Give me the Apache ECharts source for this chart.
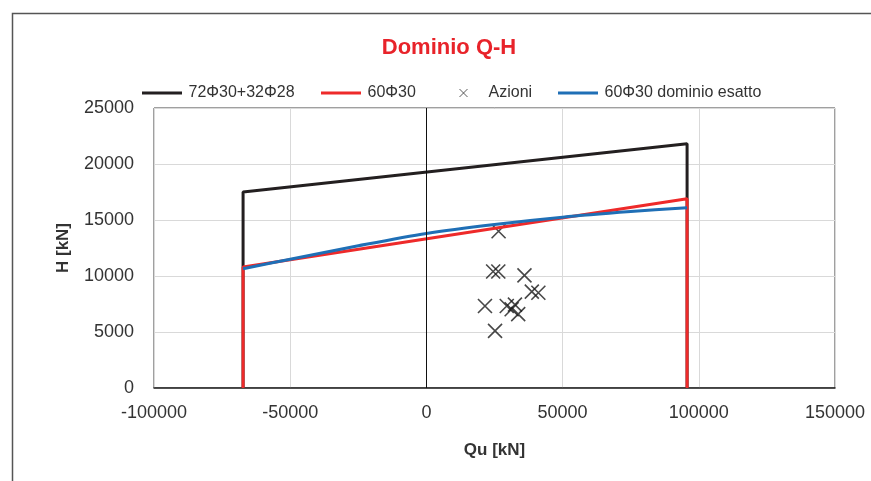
<!DOCTYPE html>
<html>
<head>
<meta charset="utf-8">
<script src="https://cdn.jsdelivr.net/npm/echarts@6/dist/echarts.min.js"></script>
<style>html,body{margin:0;padding:0;background:#fff}#c{width:871px;height:481px}</style>
</head>
<body>
<div id="c"></div>
<script>
const FONT = "'Liberation Sans', Arial, sans-serif";
const xTicks = [-100000, -50000, 0, 50000, 100000, 150000];
const yTicks = [0, 5000, 10000, 15000, 20000, 25000];

const blackName = '72\u03A630+32\u03A628';
const blackQ = [-67300, -67300, 95700, 95700];
const blackH = [0, 17500, 21800, 0];

const redName = '60\u03A630';
const redQ = [-67300, -67300, 95700, 95700];
const redH = [0, 10800, 16900, 0];

const actName = 'Azioni';
const actQ = [26500, 24500, 26400, 36000, 38700, 41100, 21500, 29500, 32500, 31300, 33700, 25200];
const actH = [14000, 10400, 10400, 10050, 8600, 8500, 7320, 7320, 7450, 7030, 6600, 5100];

const blueName = '60\u03A630 dominio esatto';
const blueQ = [-67300, -50000, -25000, 0, 25000, 50000, 75000, 95700];
const blueH = [10650, 11500, 12700, 13800, 14600, 15250, 15750, 16100];

const zip = (a, b) => a.map((v, i) => [v, b[i]]);
const X_SYM = 'path://M0,0L10,10M10,0L0,10';
const LINE_ICON = 'path://M0,0h40v3h-40z';

const legTxt = { fontFamily: FONT, fontSize: 16, color: '#333' };
function leg(name, left, extra) {
  return Object.assign({
    top: 80, left: left, itemWidth: 43, itemHeight: 3, textStyle: legTxt,
    selectedMode: false, data: [{ name: name, icon: LINE_ICON }]
  }, extra || {});
}

const chart = echarts.init(document.getElementById('c'));
chart.setOption({
  animation: false,
  backgroundColor: '#fff',
  graphic: [{
    type: 'rect', left: 10, top: 11, z: -1,
    shape: { width: 900, height: 500 },
    style: { fill: 'none', stroke: '#555', lineWidth: 1.5 }
  }],
  title: {
    text: 'Dominio Q-H', left: 444, textAlign: 'center', top: 32,
    textStyle: { color: '#e8232a', fontFamily: FONT, fontSize: 22, fontWeight: 'bold' }
  },
  legend: [
    leg(blackName, 137),
    leg(redName, 316),
    {
      top: 80, left: 452, itemWidth: 24, itemHeight: 8, textStyle: legTxt, selectedMode: false,
      data: [{ name: actName, icon: 'path://M0,0L8,8M8,0L0,8M24,4',
        itemStyle: { color: 'none', borderColor: '#333', borderWidth: 1 } }]
    },
    leg(blueName, 553)
  ],
  grid: { left: 154, right: 36, top: 108, bottom: 93, show: true, borderColor: '#404040', borderWidth: 1 },
  xAxis: {
    type: 'value', min: -100000, max: 150000, interval: 50000,
    name: 'Qu [kN]', nameLocation: 'middle', nameGap: 54,
    nameTextStyle: { fontFamily: FONT, fontSize: 17, fontWeight: 'bold', color: '#333' },
    axisLine: { onZero: false, lineStyle: { color: '#222', width: 1.5 } },
    axisTick: { show: false },
    axisLabel: { fontFamily: FONT, fontSize: 18, color: '#333', margin: 16,
      formatter: v => xTicks.includes(v) ? String(v) : '' },
    splitLine: { lineStyle: { color: '#d9d9d9', width: 1 } }
  },
  yAxis: {
    type: 'value', min: 0, max: 25000, interval: 5000,
    name: 'H [kN]', nameLocation: 'middle', nameGap: 82, nameRotate: 90,
    nameTextStyle: { fontFamily: FONT, fontSize: 17, fontWeight: 'bold', color: '#333' },
    axisLine: { show: false },
    axisTick: { show: false },
    axisLabel: { fontFamily: FONT, fontSize: 18, color: '#333', margin: 20,
      formatter: v => yTicks.includes(v) ? String(v) : '' },
    splitLine: { lineStyle: { color: '#d9d9d9', width: 1 } }
  },
  series: [
    {
      name: blackName, type: 'line', data: zip(blackQ, blackH), showSymbol: false, symbol: 'none',
      lineStyle: { color: '#231f20', width: 3 }, itemStyle: { color: '#231f20' },
      markLine: {
        silent: true, symbol: 'none', label: { show: false },
        lineStyle: { color: '#111', width: 1, type: 'solid' },
        data: [{ xAxis: 0 }]
      }
    },
    {
      name: redName, type: 'line', data: zip(redQ, redH), showSymbol: false, symbol: 'none',
      lineStyle: { color: '#ee2a2a', width: 3 }, itemStyle: { color: '#ee2a2a' }
    },
    {
      name: actName, type: 'scatter', data: zip(actQ, actH), symbol: X_SYM, symbolSize: 14,
      itemStyle: { color: 'none', borderColor: '#1a1a1a', borderWidth: 1.6 }
    },
    {
      name: blueName, type: 'line', data: zip(blueQ, blueH), showSymbol: false, symbol: 'none', smooth: 0.3,
      lineStyle: { color: '#1f6fb6', width: 3 }, itemStyle: { color: '#1f6fb6' }
    }
  ]
});
</script>
</body>
</html>
